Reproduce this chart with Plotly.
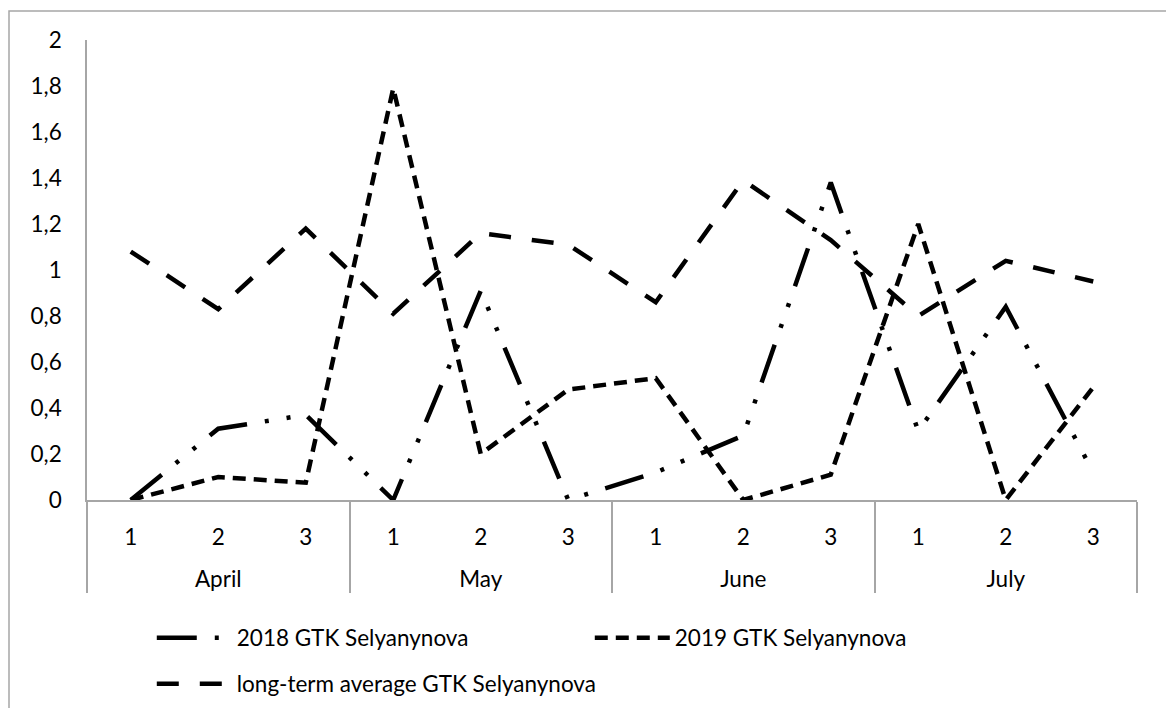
import plotly.graph_objects as go

months = ["April", "May", "June", "July"]
decades = ["1", "2", "3"]

y2018 = [0.0, 0.31, 0.37, 0.0, 0.91, 0.0, 0.12, 0.28, 1.38, 0.30, 0.84, 0.12]
y2019 = [0.0, 0.10, 0.075, 1.79, 0.20, 0.48, 0.53, 0.0, 0.11, 1.20, 0.0, 0.49]
ylong = [1.08, 0.83, 1.18, 0.81, 1.16, 1.11, 0.86, 1.39, 1.13, 0.80, 1.04, 0.95]

names = ["2018 GTK Selyanynova", "2019 GTK Selyanynova", "long-term average GTK Selyanynova"]

# second-level label sits one line lower, as in the reference
x_month = ["<br>" + m for m in months for _ in decades]
x_dec = [d for _ in months for d in decades]

FONT = "Lato"
FS = 22.5
GRAY = "#a6a6a6"

fig = go.Figure()
fig.add_trace(go.Scatter(x=[x_month, x_dec], y=y2018, mode="lines", name=names[0],
                         line=dict(color="black", width=4.5, dash="40px,18px,4px,18px,4px,18px"),
                         legend="legend"))
fig.add_trace(go.Scatter(x=[x_month, x_dec], y=y2019, mode="lines", name=names[1],
                         line=dict(color="black", width=4.5, dash="13px,8px"),
                         legend="legend"))
fig.add_trace(go.Scatter(x=[x_month, x_dec], y=ylong, mode="lines", name=names[2],
                         line=dict(color="black", width=4.5, dash="22px,21px"),
                         legend="legend2"))

fig.update_layout(
    width=1166, height=708,
    margin=dict(l=87, r=29, t=40, b=208, autoexpand=False),
    paper_bgcolor="white", plot_bgcolor="white",
    separators=", ",
    font=dict(family=FONT, size=FS, color="black"),
    showlegend=True,
    legend=dict(orientation="h", x=0.0617, xanchor="left", y=-0.30, yanchor="middle",
                itemwidth=75, entrywidth=348, font=dict(size=FS, family=FONT),
                bgcolor="rgba(0,0,0,0)"),
    legend2=dict(orientation="h", x=0.0617, xanchor="left", y=-0.40, yanchor="middle",
                 itemwidth=75, font=dict(size=FS, family=FONT),
                 bgcolor="rgba(0,0,0,0)"),
    xaxis=dict(type="multicategory", range=[-0.5, 11.5], showline=True, linecolor=GRAY,
               linewidth=1.5, showgrid=False, ticks="", showdividers=True,
               dividercolor=GRAY, dividerwidth=1.5, ticklabelstandoff=16,
               tickfont=dict(size=FS, family=FONT), zeroline=False, automargin=False),
    yaxis=dict(range=[0, 2], dtick=0.2, tick0=0, showline=True, linecolor=GRAY,
               linewidth=1.5, showgrid=False, zeroline=False, ticks="",
               ticklabelstandoff=19, tickfont=dict(size=FS, family=FONT), automargin=False),
    shapes=[dict(type="rect", xref="paper", yref="paper",
                 x0=(9 - 87) / 1050, x1=1.2, y0=-0.6, y1=(500 - 11) / 460,
                 line=dict(color=GRAY, width=1.5), fillcolor="rgba(0,0,0,0)", layer="below")],
)

fig.write_html("out.html", config={"displayModeBar": False},
               post_script="document.body.style.margin='0';")
